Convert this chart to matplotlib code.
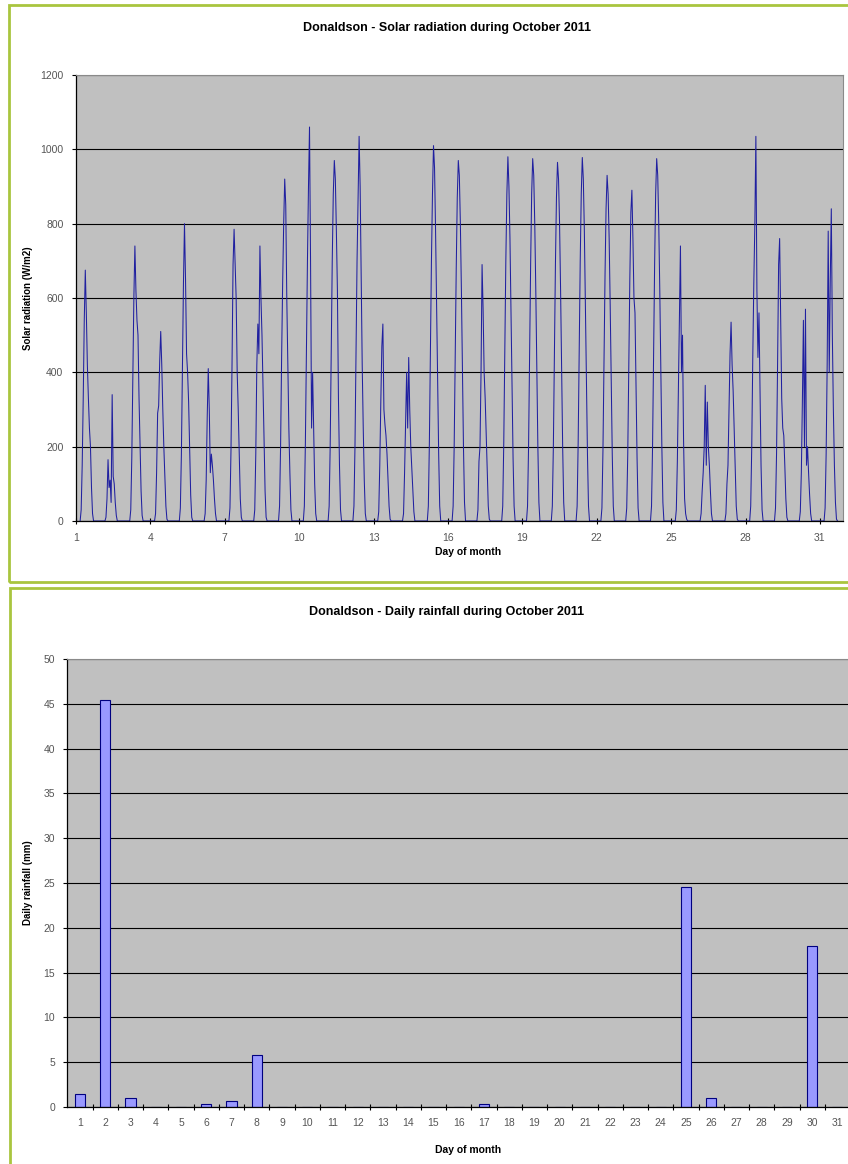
"""Donaldson weather station, October 2011: solar radiation trace and daily rainfall bars."""

import matplotlib
matplotlib.use("Agg")  # headless
import matplotlib.pyplot as plt
from matplotlib.patches import Rectangle

plt.rcParams["font.family"] = ["Liberation Sans", "DejaVu Sans"]

# Hours of day at which the solar readings below were taken
solar_hours = [4, 5, 6, 7, 8, 9, 10, 11, 12, 13, 14, 15, 16, 17]

# Solar radiation (W/m2) per day, one row per day of October
solar_day_values = [
    [0, 30, 150, 330, 540, 675, 560, 420, 330, 250, 200, 90, 20, 0],     # 1
    [0, 10, 60, 165, 90, 110, 50, 340, 120, 100, 50, 15, 0, 0],          # 2
    [0, 30, 170, 380, 600, 740, 620, 540, 500, 330, 200, 80, 15, 0],     # 3
    [0, 20, 130, 290, 310, 430, 510, 420, 300, 200, 120, 40, 5, 0],      # 4
    [0, 35, 180, 400, 640, 800, 650, 450, 400, 320, 200, 70, 10, 0],     # 5
    [0, 20, 110, 280, 410, 300, 130, 180, 150, 110, 60, 20, 0, 0],       # 6
    [0, 35, 190, 420, 690, 785, 690, 600, 400, 300, 180, 60, 10, 0],     # 7
    [0, 30, 180, 420, 530, 450, 740, 600, 500, 360, 220, 80, 10, 0],     # 8
    [0, 40, 200, 440, 640, 800, 920, 850, 600, 420, 250, 130, 30, 0],    # 9
    [0, 40, 210, 460, 700, 900, 1060, 700, 250, 400, 250, 100, 20, 0],   # 10
    [0, 40, 200, 450, 700, 880, 970, 920, 780, 620, 330, 150, 30, 0],    # 11
    [0, 40, 200, 450, 700, 860, 1035, 900, 650, 420, 250, 110, 20, 0],   # 12
    [0, 25, 150, 320, 470, 530, 300, 260, 230, 180, 110, 40, 5, 0],      # 13
    [0, 20, 130, 260, 400, 250, 440, 300, 200, 140, 80, 25, 0, 0],       # 14
    [0, 40, 210, 460, 700, 880, 1010, 950, 780, 580, 380, 180, 40, 0],   # 15
    [0, 40, 200, 440, 680, 870, 970, 930, 800, 620, 400, 200, 50, 0],    # 16
    [0, 30, 160, 200, 400, 690, 570, 400, 330, 230, 130, 40, 5, 0],      # 17
    [0, 40, 210, 460, 700, 880, 980, 900, 760, 560, 360, 170, 40, 0],    # 18
    [0, 40, 200, 450, 690, 880, 975, 930, 800, 620, 400, 200, 50, 0],    # 19
    [0, 40, 200, 450, 690, 870, 965, 920, 800, 620, 400, 200, 50, 0],    # 20
    [0, 40, 210, 460, 700, 880, 978, 920, 780, 580, 380, 180, 40, 0],    # 21
    [0, 35, 190, 430, 660, 840, 930, 880, 760, 580, 380, 180, 40, 0],    # 22
    [0, 35, 180, 420, 650, 830, 890, 760, 600, 560, 360, 170, 35, 0],    # 23
    [0, 40, 200, 450, 690, 880, 975, 930, 800, 620, 400, 200, 50, 0],    # 24
    [0, 30, 160, 360, 550, 740, 400, 500, 220, 60, 20, 5, 0, 0],         # 25
    [0, 20, 80, 130, 200, 365, 150, 320, 200, 150, 80, 20, 0, 0],        # 26
    [0, 20, 100, 150, 300, 450, 535, 420, 350, 250, 140, 40, 5, 0],      # 27
    [0, 40, 200, 440, 640, 800, 1035, 620, 440, 560, 360, 150, 30, 0],   # 28
    [0, 35, 180, 420, 690, 760, 550, 330, 250, 230, 150, 60, 10, 0],     # 29
    [0, 25, 130, 320, 540, 200, 570, 150, 200, 130, 70, 20, 0, 0],       # 30
    [0, 35, 180, 420, 780, 400, 650, 840, 500, 300, 150, 50, 5, 0],      # 31
]

solar_xticks = [1, 4, 7, 10, 13, 16, 19, 22, 25, 28, 31]
solar_yticks = [0, 200, 400, 600, 800, 1000, 1200]

# Daily rainfall (mm)
rain_days = list(range(1, 32))
rain_mm = [1.4, 45.4, 1.0, 0, 0, 0.3, 0.7, 5.8, 0, 0,
           0, 0, 0, 0, 0, 0, 0.3, 0, 0, 0,
           0, 0, 0, 0, 24.6, 1.0, 0, 0, 0, 18.0,
           0]
rain_yticks = [0, 5, 10, 15, 20, 25, 30, 35, 40, 45, 50]

PLOT_BG = "#c0c0c0"
BORDER = "#a9c53f"
TICK_COLOR = "#555555"

W, H = 848, 1164
fig = plt.figure(figsize=(W / 100, H / 100), dpi=100)


def px_box(left, top, right, bottom):
    """Pixel box -> figure-fraction [l, b, w, h]."""
    return [left / W, 1 - bottom / H, (right - left) / W, (bottom - top) / H]


def style_axes(ax):
    ax.set_facecolor(PLOT_BG)
    for side in ("top", "right"):
        ax.spines[side].set_color("#8a8a8a")
        ax.spines[side].set_linewidth(0.8)
    for side in ("left", "bottom"):
        ax.spines[side].set_color("black")
        ax.spines[side].set_linewidth(0.9)
    ax.grid(axis="y", color="black", linewidth=0.8)
    ax.set_axisbelow(True)
    ax.tick_params(axis="both", labelsize=7.5, labelcolor=TICK_COLOR,
                   color="black", width=0.8)
    ax.tick_params(axis="y", direction="out", length=3, pad=6)


# --- panel borders ---
fig.add_artist(Rectangle((9 / W, 1 - 582 / H), 1.0, 577 / H,
                         transform=fig.transFigure, fill=False,
                         edgecolor=BORDER, linewidth=2.0))
fig.add_artist(Rectangle((10 / W, -0.05), 1.0, 1 - 588 / H + 0.05,
                         transform=fig.transFigure, fill=False,
                         edgecolor=BORDER, linewidth=2.0))

# --- solar radiation ---
ax1 = fig.add_axes(px_box(76, 75, 843, 521))
style_axes(ax1)
xs, ys = [], []
for day, vals in zip(range(1, 32), solar_day_values):
    for hour, v in zip(solar_hours, vals):
        xs.append(day + hour / 24)
        ys.append(v)
ax1.plot(xs, ys, color="#2020a0", linewidth=0.75)
ax1.set_xlim(1, 31.93)
ax1.set_ylim(0, 1200)
ax1.set_xticks(solar_xticks)
ax1.set_yticks(solar_yticks)
ax1.tick_params(axis="x", direction="inout", length=5, pad=6)
ax1.set_ylabel("Solar radiation (W/m2)", fontsize=7, fontweight="bold")
ax1.yaxis.set_label_coords(-0.056, 0.5)
ax1.set_xlabel("Day of month", fontsize=7.5, fontweight="bold")
ax1.xaxis.set_label_coords(0.511, -0.058)
fig.text(447 / W, 1 - 28 / H, "Donaldson - Solar radiation during October 2011",
         ha="center", va="center", fontsize=9, fontweight="bold")

# --- daily rainfall ---
ax2 = fig.add_axes(px_box(67.4, 659, 850, 1107))
style_axes(ax2)
ax2.bar(rain_days, rain_mm, width=0.4, color="#9999ff",
        edgecolor="#000080", linewidth=0.8)
ax2.set_xlim(0.5, 31.5)
ax2.set_ylim(0, 50)
ax2.set_yticks(rain_yticks)
ax2.set_xticks(rain_days)
ax2.set_xticks([d + 0.5 for d in rain_days[:-1]], minor=True)
ax2.tick_params(axis="x", which="major", length=0, pad=8)
ax2.tick_params(axis="x", which="minor", direction="inout", length=5,
                color="black", width=0.8)
ax2.set_ylabel("Daily rainfall (mm)", fontsize=7, fontweight="bold")
ax2.yaxis.set_label_coords(-0.044, 0.5)
ax2.set_xlabel("Day of month", fontsize=7.5, fontweight="bold")
ax2.xaxis.set_label_coords(0.512, -0.085)
fig.text(447 / W, 1 - 612 / H, "Donaldson - Daily rainfall during October 2011",
         ha="center", va="center", fontsize=9, fontweight="bold")

fig.savefig("out.png", dpi=100)
